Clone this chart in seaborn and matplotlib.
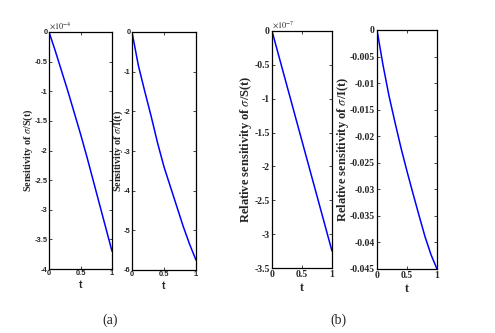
import numpy as np
import pandas as pd
import matplotlib
matplotlib.use("Agg")
import matplotlib.pyplot as plt
import seaborn as sns
from matplotlib.ticker import FuncFormatter, MultipleLocator

# ---- data ----
t = [0.0, 0.1, 0.2, 0.3, 0.4, 0.5, 0.6, 0.7, 0.8, 0.9, 1.0]
sens_S = [0, -0.32e-4, -0.66e-4, -1.0e-4, -1.36e-4, -1.72e-4, -2.1e-4, -2.5e-4, -2.9e-4, -3.3e-4, -3.7e-4]
sens_I = [0, -0.85, -1.5, -2.13, -2.8, -3.4, -3.9, -4.4, -4.9, -5.35, -5.75]
rel_S = [0, -0.325e-7, -0.65e-7, -0.975e-7, -1.3e-7, -1.625e-7, -1.95e-7, -2.275e-7, -2.6e-7, -2.925e-7, -3.25e-7]
rel_I = [0, -0.0066, -0.0124, -0.0174, -0.0222, -0.0266, -0.0308, -0.0349, -0.0389, -0.0423, -0.045]

ylabels = [r"Sensitivity of $\sigma$/S(t)", r"Sensitivity of $\sigma$/I(t)",
           r"Relative sensitivity of $\sigma$/S(t)", r"Relative sensitivity of $\sigma$/I(t)"]
ylims = [(-4e-4, 0), (-6, 0), (-3.5e-7, 0), (-0.045, 0)]
ysteps = [0.5e-4, 1, 0.5e-7, 0.005]
scales = [1e-4, 1, 1e-7, 1]
exps = ["-4", None, "-7", None]
panel_labels = ["(a)", "(b)"]

sns.set_style("ticks")
plt.rcParams['font.family'] = ['Liberation Serif', 'DejaVu Serif']
plt.rcParams['mathtext.fontset'] = 'stix'
plt.rcParams['axes.unicode_minus'] = False

fig = plt.figure(figsize=(4.95, 3.33), dpi=100)
W, H = 495, 333
boxes = [(49, 32, 63, 237), (132, 32, 64, 238), (272, 31, 60, 237), (377, 30, 60, 239)]
series = [sens_S, sens_I, rel_S, rel_I]
ylab_sizes = [7.3, 7.3, 9, 9]
tick_sizes = [5.4, 5.4, 7, 7]
tick_pads = [1.0, 1.0, 1.5, 1.5]
tick_fonts = ['Liberation Sans', 'Liberation Sans', 'Liberation Serif', 'Liberation Serif']
ylab_x = [28.5, 118.5, 246.5, 343]

for i, (bx, by, bw, bh) in enumerate(boxes):
    ax = fig.add_axes([bx / W, 1 - (by + bh) / H, bw / W, bh / H])
    df = pd.DataFrame({"t": t, "v": series[i]})
    sns.lineplot(data=df, x="t", y="v", ax=ax, color="#0000ff", linewidth=1.1)
    ax.set_xlim(0, 1)
    ax.set_ylim(*ylims[i])
    ax.xaxis.set_major_locator(MultipleLocator(0.5))
    ax.yaxis.set_major_locator(MultipleLocator(ysteps[i]))
    sc = scales[i]
    ax.xaxis.set_major_formatter(FuncFormatter(lambda v, p: '%g' % v))
    ax.yaxis.set_major_formatter(FuncFormatter(lambda v, p, sc=sc: '%g' % round(v / sc, 6)))
    ax.tick_params(direction='in', length=2.5, width=0.6, top=True, right=True,
                   labelsize=tick_sizes[i], pad=tick_pads[i])
    for lab in ax.get_xticklabels() + ax.get_yticklabels():
        lab.set_fontweight('bold')
        lab.set_family(tick_fonts[i])
    for s in ax.spines.values():
        s.set_linewidth(0.9)
        s.set_color('black')
    ax.set_xlabel("t", fontsize=7.5 if i < 2 else 8.5, fontweight='bold', labelpad=2,
                  family=tick_fonts[i])
    ax.set_ylabel(ylabels[i], fontsize=ylab_sizes[i], fontweight='bold')
    ax.yaxis.set_label_coords((ylab_x[i] - bx) / bw, 0.5)
    ax.yaxis.label.set_verticalalignment('center')
    if exps[i] is not None:
        ax.text(0.0, 1.003, r"$\times10^{%s}$" % exps[i], transform=ax.transAxes,
                fontsize=6, ha='left', va='bottom')

fig.text(110 / W, 1 - 320 / H, panel_labels[0], fontsize=10, ha='center', va='center')
fig.text(338 / W, 1 - 320 / H, panel_labels[1], fontsize=10, ha='center', va='center')

fig.savefig("out.png", dpi=100, facecolor='white')
